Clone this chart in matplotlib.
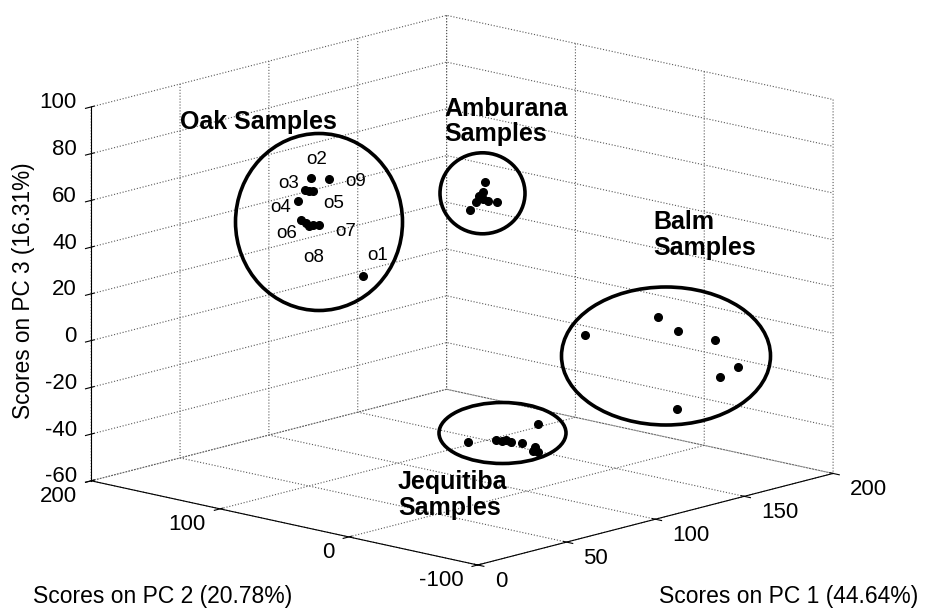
import matplotlib
matplotlib.use("Agg")
import matplotlib.pyplot as plt
from matplotlib.patches import Ellipse
from matplotlib.transforms import IdentityTransform
from mpl_toolkits.mplot3d import proj3d

plt.rcParams['font.family'] = ['Liberation Sans', 'DejaVu Sans']
plt.rcParams['axes.unicode_minus'] = False
plt.rcParams['grid.linestyle'] = ':'
plt.rcParams['grid.color'] = '0.35'
plt.rcParams['grid.linewidth'] = 0.8

# scores (PC2 depth estimated per group)
oak_pc1 = [58.3, 68.7, 54.9, 57.5, 59.7, 51.3, 52.6, 55.4, 57.5, 59.7, 62.8, 87.6]
oak_pc2 = [110, 110, 110, 110, 110, 110, 110, 110, 110, 110, 110, 110]
oak_pc3 = [69.1, 66.6, 64.6, 63.7, 63.0, 60.7, 52.2, 50.1, 48.4, 48.7, 48.0, 21.1]

amb_pc1 = [112.8, 104.6, 109.6, 111.5, 111.8, 114.3, 119.5, 107.7]
amb_pc2 = [50, 50, 50, 50, 50, 50, 50, 50]
amb_pc3 = [63.7, 53.6, 58.6, 59.7, 56.6, 55.3, 54.1, 56.2]

balm_pc1 = [96.9, 138.0, 149.1, 169.9, 182.9, 172.4, 148.5]
balm_pc2 = [-50, -50, -50, -50, -50, -50, -50]
balm_pc3 = [13.6, 13.2, 5.0, -2.9, -17.1, -19.5, -28.2]

jeq_pc1 = [66.8, 82.6, 86.0, 91.2, 97.4, 106.6, 104.7, 106.3, 103.4, 88.2]
jeq_pc2 = [0, 0, 0, 0, 0, 0, 0, 0, 0, 0]
jeq_pc3 = [-32.3, -34.8, -35.7, -37.1, -39.0, -32.7, -42.0, -44.4, -43.5, -36.0]

x_ticks = [0, 50, 100, 150, 200]
y_ticks = [-100, 0, 100, 200]
z_ticks = [-60, -40, -20, 0, 20, 40, 60, 80, 100]

oak_names = ['o1', 'o2', 'o3', 'o4', 'o5', 'o6', 'o7', 'o8', 'o9']
group_names = ['Oak Samples', 'Amburana\nSamples', 'Balm\nSamples', 'Jequitiba\nSamples']

W, H = 925, 610
fig = plt.figure(figsize=(W / 100, H / 100), dpi=100)
ax = fig.add_axes([-0.0093, 0.0108, 1, 1], projection='3d', proj_type='ortho')

for px, py, pz in [(oak_pc1, oak_pc2, oak_pc3), (amb_pc1, amb_pc2, amb_pc3),
                   (balm_pc1, balm_pc2, balm_pc3), (jeq_pc1, jeq_pc2, jeq_pc3)]:
    ax.plot(px, py, pz, 'o', color='k', markersize=5.5, linestyle='none')

ax.set_xlim(0, 200)
ax.set_ylim(-100, 200)
ax.set_zlim(-60, 100)
ax.set_xticks(x_ticks)
ax.set_yticks(y_ticks)
ax.set_zticks(z_ticks)
ax.set_box_aspect((1, 1, 0.733), zoom=1.331)
ax.view_init(elev=13.7, azim=-137.4)

for a in (ax.xaxis, ax.yaxis, ax.zaxis):
    a.set_pane_color((1, 1, 1, 0))
    a.pane.set_edgecolor('none')
    a._axinfo['grid'].update(color='0.35', linestyle=':', linewidth=0.8)
    a.line.set_color('k')
    a.set_tick_params(labelbottom=False, labelleft=False)

fig.canvas.draw()


def corner_px(x, y, z):
    # project a data point of the box to display pixels
    u, v, _ = proj3d.proj_transform(x, y, z, ax.M)
    return ax.transData.transform((u, v))


def add_label(x, y, z, text, dx, dy, ha):
    sx, sy = corner_px(x, y, z)
    fig.text((sx + dx) / W, (sy + dy) / H, text, ha=ha, va='center', fontsize=16)


# tick labels set just outside the box edges, MATLAB style
for t in x_ticks:
    add_label(t, -100, -60, str(t), 17, -16.5, 'left')
for t in y_ticks:
    add_label(0, t, -60, str(t), -14.5, -15.5, 'right')
for t in z_ticks:
    add_label(0, 200, t, str(t), -14.3, 4, 'right')


def px2fig(x, y):
    return x / W, 1 - y / H


# axis titles (drawn as figure text)
fig.text(*px2fig(24, 291), 'Scores on PC 3 (16.31%)', rotation=90,
         ha='center', va='center', fontsize=16.3)
fig.text(*px2fig(163, 597), 'Scores on PC 2 (20.78%)', ha='center', va='center', fontsize=16.5)
fig.text(*px2fig(789, 597), 'Scores on PC 1 (44.64%)', ha='center', va='center', fontsize=16.5)

# group outlines, in image pixels: centre x, centre y, width, height
rings = [(319, 222, 167, 177), (482.5, 193.3, 85, 81),
         (666, 356, 209, 138), (502.5, 433, 127, 61)]
for cx, cy, w, h in rings:
    fig.add_artist(Ellipse((cx, H - cy), w, h, transform=IdentityTransform(),
                           fill=False, edgecolor='k', linewidth=2.6))

name_pos = [(180, 122), (444, 121.5), (653, 235), (398, 495)]
for (x, y), name in zip(name_pos, group_names):
    fig.text(*px2fig(x, y), name, ha='left', va='center', fontsize=18,
             fontweight='bold', linespacing=1.1)

oak_label_pos = [(378, 255), (317, 159), (289, 184), (281, 207), (334, 203),
                 (287, 234), (346, 231), (314, 257), (356, 181)]
for (x, y), name in zip(oak_label_pos, oak_names):
    fig.text(*px2fig(x, y), name, ha='center', va='center', fontsize=13.5)

fig.savefig('out.png', dpi=100)
